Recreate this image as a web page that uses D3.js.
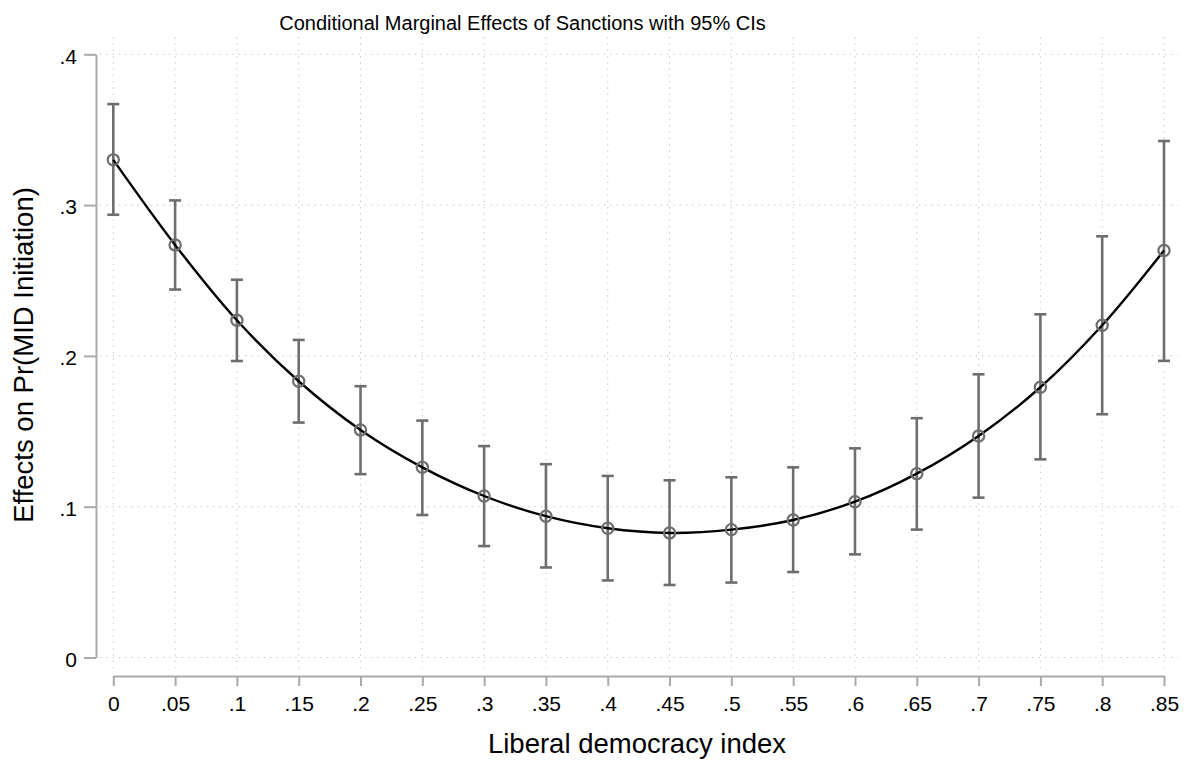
<!DOCTYPE html>
<html>
<head>
<meta charset="utf-8">
<script src="https://cdn.jsdelivr.net/npm/d3@7"></script>
<style>
  body { margin: 0; background: #fff; }
  text { font-family: "Liberation Sans", Arial, Helvetica, sans-serif; fill: #000; }
</style>
</head>
<body>
<svg id="chart" width="1187" height="761"></svg>
<script>
// liberal democracy index values
const xValues = [0, .05, .1, .15, .2, .25, .3, .35, .4, .45, .5, .55, .6, .65, .7, .75, .8, .85];
// marginal effect estimates with 95% CI bounds
const effect = [.330, .2736, .2236, .1832, .1509, .1261, .1071, .0937, .0857, .0826, .0848, .0912, .1033, .1219, .1469, .1792, .2203, .2699];
const upper  = [.367, .3031, .2505, .2106, .1799, .1571, .1402, .1282, .1204, .1175, .1195, .1261, .1387, .1587, .1878, .2276, .2793, .3425];
const lower  = [.2936, .2440, .1966, .1558, .1216, .0945, .0739, .0597, .0511, .0481, .0497, .0567, .0684, .0848, .1060, .1314, .1613, .1967];
const xTicks = [0, .05, .1, .15, .2, .25, .3, .35, .4, .45, .5, .55, .6, .65, .7, .75, .8, .85];
const yTicks = [0, .1, .2, .3, .4];

const svg = d3.select("#chart");
const x = d3.scaleLinear().domain([0, .85]).range([113.3, 1164]);
const y = d3.scaleLinear().domain([0, .4]).range([657.5, 54.3]);

// stata style labels: drop leading zero
const fmt = (d) => d === 0 ? "0" : String(d).replace(/^0/, "");

const data = xValues.map((v, i) => ({ x: v, m: effect[i], hi: upper[i], lo: lower[i] }));

// dotted grid
svg.append("g")
  .selectAll("line")
  .data(yTicks)
  .join("line")
  .attr("x1", 100).attr("x2", 1178)
  .attr("y1", (d) => y(d)).attr("y2", (d) => y(d))
  .attr("stroke", "#c4c4c4").attr("stroke-width", 1)
  .attr("stroke-dasharray", "1.3,5");

svg.append("g")
  .selectAll("line")
  .data(xTicks)
  .join("line")
  .attr("x1", (d) => x(d)).attr("x2", (d) => x(d))
  .attr("y1", 37).attr("y2", 668)
  .attr("stroke", "#c4c4c4").attr("stroke-width", 1)
  .attr("stroke-dasharray", "1.3,5");

// y axis
const yAxis = svg.append("g")
  .attr("transform", "translate(96,0)")
  .call(d3.axisLeft(y).tickValues(yTicks).tickFormat(fmt).tickSize(12).tickSizeOuter(0).tickPadding(7));
yAxis.select(".domain").attr("stroke", "#aaa").attr("stroke-width", 2);
yAxis.selectAll(".tick line").attr("stroke", "#aaa").attr("stroke-width", 2);
yAxis.selectAll(".tick text")
  .style("font-size", "21px").attr("fill", "#000")
  .style("font-family", "'Liberation Sans', Arial, sans-serif")
  .attr("dy", "0.42em");

// x axis
const xAxis = svg.append("g")
  .attr("transform", "translate(0,676)")
  .call(d3.axisBottom(x).tickValues(xTicks).tickFormat(fmt).tickSize(10).tickSizeOuter(0).tickPadding(10));
xAxis.select(".domain").attr("stroke", "#aaa").attr("stroke-width", 2);
xAxis.selectAll(".tick line").attr("stroke", "#aaa").attr("stroke-width", 2);
xAxis.selectAll(".tick text")
  .style("font-size", "21px").attr("fill", "#000")
  .style("font-family", "'Liberation Sans', Arial, sans-serif");

// error bars
const bars = svg.append("g")
  .selectAll("g")
  .data(data)
  .join("g")
  .attr("stroke", "#6e6e6e")
  .attr("stroke-width", 2.6);

bars.append("line")
  .attr("x1", (d) => x(d.x)).attr("x2", (d) => x(d.x))
  .attr("y1", (d) => y(d.lo)).attr("y2", (d) => y(d.hi));
bars.append("line")
  .attr("x1", (d) => x(d.x) - 6).attr("x2", (d) => x(d.x) + 6)
  .attr("y1", (d) => y(d.hi)).attr("y2", (d) => y(d.hi));
bars.append("line")
  .attr("x1", (d) => x(d.x) - 6).attr("x2", (d) => x(d.x) + 6)
  .attr("y1", (d) => y(d.lo)).attr("y2", (d) => y(d.lo));

// connecting line
svg.append("path")
  .datum(data)
  .attr("fill", "none")
  .attr("stroke", "#000")
  .attr("stroke-width", 2.4)
  .attr("d", d3.line().x((d) => x(d.x)).y((d) => y(d.m)).curve(d3.curveCatmullRom));

// hollow markers
svg.append("g")
  .selectAll("circle")
  .data(data)
  .join("circle")
  .attr("cx", (d) => x(d.x))
  .attr("cy", (d) => y(d.m))
  .attr("r", 5.6)
  .attr("fill", "none")
  .attr("stroke", "#6e6e6e")
  .attr("stroke-width", 2.2);

// titles
svg.append("text")
  .attr("x", 522.5).attr("y", 29.5)
  .attr("text-anchor", "middle")
  .style("font-size", "20px")
  .text("Conditional Marginal Effects of Sanctions with 95% CIs");

svg.append("text")
  .attr("transform", "translate(33,355) rotate(-90)")
  .attr("text-anchor", "middle")
  .style("font-size", "27.5px")
  .text("Effects on Pr(MID Initiation)");

svg.append("text")
  .attr("x", 637).attr("y", 752.5)
  .attr("text-anchor", "middle")
  .style("font-size", "27.5px")
  .text("Liberal democracy index");
</script>
</body>
</html>
